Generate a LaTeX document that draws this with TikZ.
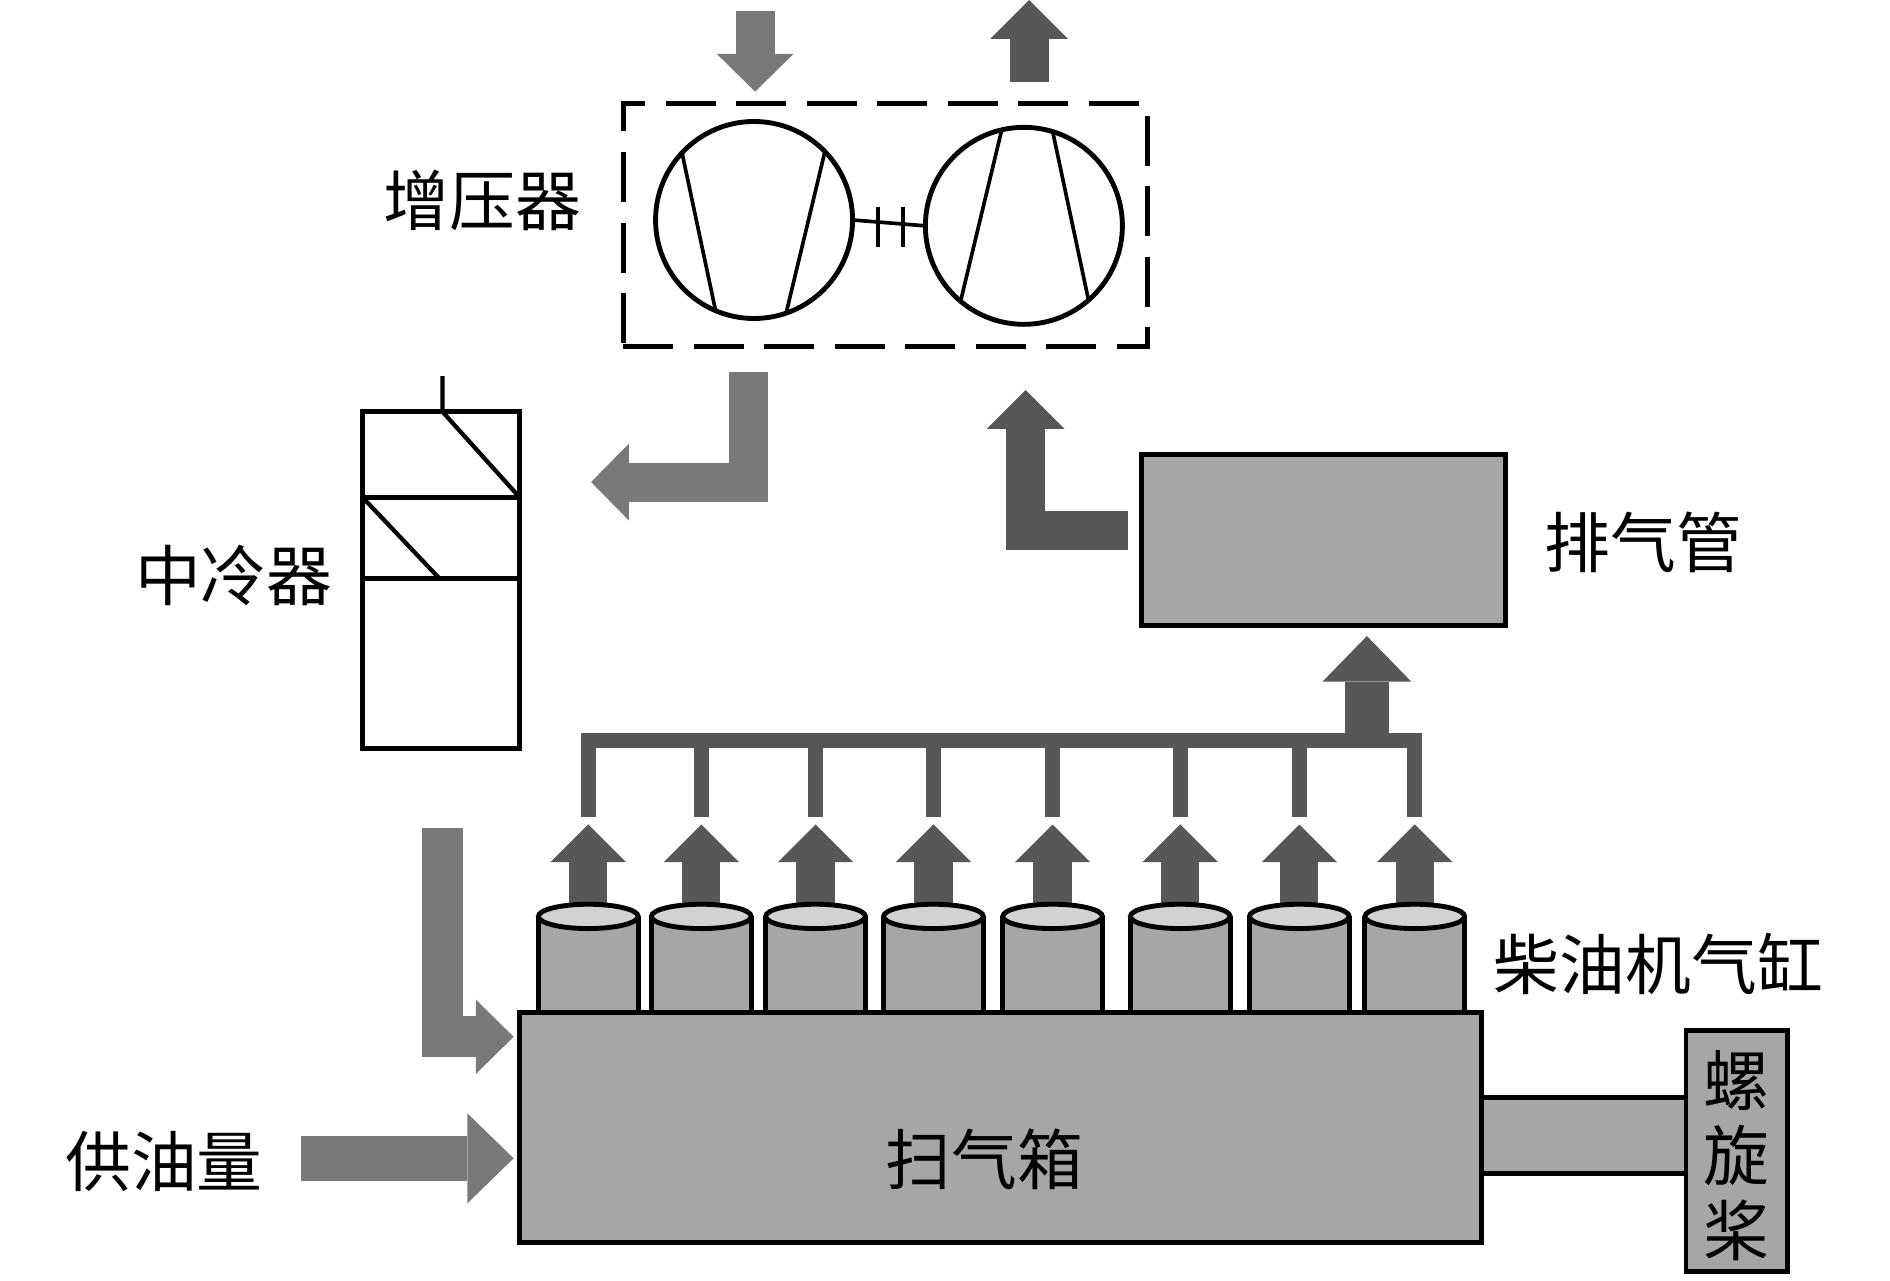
\documentclass[tikz,border=0pt]{standalone}
\usepackage{fontspec}
\newfontfamily\cjk{Noto Sans CJK SC}
\usetikzlibrary{arrows.meta,shapes.geometric}
\definecolor{airgray}{HTML}{797979}
\definecolor{gasgray}{HTML}{575757}
\definecolor{bodygray}{HTML}{A6A6A6}
\definecolor{capgray}{HTML}{D2D2D2}
\tikzset{
  part/.style={draw=black, line width=0.04cm, fill=bodygray, inner sep=0pt, outer sep=0pt},
  wheel/.style={circle, draw=black, line width=0.04cm, minimum size=1.62cm, inner sep=0pt, outer sep=0pt},
  caption/.style={font=\cjk\fontsize{15.4pt}{17.6pt}\selectfont, inner sep=0pt, align=center},
  airflow/.style={draw=airgray, line width=0.32cm, -{Triangle[length=0.31cm,width=0.63cm,line width=0pt]}},
  gasflow/.style={draw=gasgray, line width=0.32cm, -{Triangle[length=0.32cm,width=0.64cm,line width=0pt]}},
  pipe/.style={draw=gasgray, line width=0.12cm},
}
\begin{document}
\begin{tikzpicture}[x=0.01cm, y=-0.01cm]
    \useasboundingbox (0,0) rectangle (1555,1053.2);
    % turbocharger
    \node[draw=black, line width=0.04cm, dash pattern=on 0.41cm off 0.17cm, minimum width=4.31cm, minimum height=2.0cm, inner sep=0pt] (tc) at (728.3,185.2) {};
    \node[wheel] (comp) at (620.4,181) {};
    \node[wheel] (turb) at (842.4,185.8) {};
    \draw[line width=0.03cm] (comp.137) -- (comp.247) (comp.44) -- (comp.289);
    \draw[line width=0.03cm] (turb.103) -- (turb.230) (turb.73) -- (turb.311);
    \draw[line width=0.03cm] (comp.east) -- (turb.west);
    \draw[line width=0.03cm] (722.2,170) -- (722.2,203) (742.7,170) -- (742.7,203);
    \node[caption] (tclabel) at (397,165) {增压器};
    \coordinate (airin) at (621.3,8.8);
    \coordinate (airtip) at (621.3,75.4);
    \coordinate (gasout) at (846.7,67.7);
    \coordinate (gastip) at (846.7,0);
    \draw[airflow] (airin) -- (airtip);
    \draw[gasflow] (gasout) -- (gastip);
    % intercooler
    \node[draw=black, line width=0.04cm, minimum width=1.29cm, minimum height=2.77cm, inner sep=0pt, outer sep=0pt] (ic) at (362.9,477.2) {};
    \draw[line width=0.04cm] (298.3,409.2) -- (427.5,409.2) (298.3,475.8) -- (427.5,475.8);
    \draw[line width=0.035cm] (364,309.4) -- (364,338.7) -- (427.5,409.2);
    \draw[line width=0.035cm] (298.3,409.2) -- (361.4,475.8);
    \node[caption] (iclabel) at (192.4,473.5) {中冷器};
    \coordinate (cmpout) at (616,305.8);
    \coordinate (ictip) at (486.3,396.6);
    \draw[airflow] (cmpout) -- (cmpout |- ictip) -- (ictip);
    % exhaust pipe
    \node[part, minimum width=2.99cm, minimum height=1.40cm] (exh) at (1088.7,444.3) {};
    \node[caption] (exhlabel) at (1352,446) {排气管};
    \coordinate (exhout) at (927.8,436.5);
    \coordinate (turbtip) at (843.8,320.9);
    \draw[gasflow] (exhout) -- (turbtip |- exhout) -- (turbtip);
    % cylinders and manifold
    \foreach \cx [count=\i] in {484,577,671,768,866,971,1069,1164} {
        \node[part, draw=none, minimum width=0.82cm, minimum height=0.79cm] (cyl\i) at (\cx,793.5) {};
        \draw[line width=0.04cm] (cyl\i.north west) -- (cyl\i.south west) (cyl\i.north east) -- (cyl\i.south east);
        \coordinate (drop\i) at (\cx,672.5);
        \coordinate (cyltip\i) at (\cx,678.3);
        \draw[pipe] (drop\i) -- (\cx,609);
        \draw[gasflow, line width=0.315cm, -{Triangle[length=0.31cm,width=0.62cm,line width=0pt]}] (cyl\i.north) -- (cyltip\i);
        \node[ellipse, draw=black, line width=0.04cm, fill=capgray, minimum width=0.82cm, minimum height=0.2cm, inner sep=0pt] (cap\i) at (cyl\i.north) {};
    }
    \draw[pipe] (478,609) -- (1170,609);
    \coordinate (mfold) at (1124.6,609);
    \coordinate (exhin) at (1124.6,523.3);
    \draw[gasflow, line width=0.36cm, -{Triangle[length=0.375cm,width=0.73cm,line width=0pt]}] (mfold) -- (exhin);
    \node[caption] (cyllabel) at (1364.4,793) {柴油机气缸};
    % engine block, shaft and propeller
    \node[part, minimum width=1.68cm, minimum height=0.624cm] (shaft) at (1303.1,934.2) {};
    \node[part, minimum width=7.914cm, minimum height=1.895cm] (scav) at (823.3,927.75) {};
    \node[part, minimum width=0.834cm, minimum height=1.983cm] (prop) at (1428.9,947.15) {};
    \node[caption] (scavlabel) at (810,954) {扫气箱};
    \node[caption] (proplabel) at (1429,951) {螺\\旋\\桨};
    \coordinate (coolout) at (364,681);
    \coordinate (scavtip) at (422.6,853);
    \draw[airflow, line width=0.34cm, -{Triangle[length=0.31cm,width=0.61cm,line width=0pt]}] (coolout) -- (coolout |- scavtip) -- (scavtip);
    \coordinate (fuelin) at (248,953);
    \coordinate (fueltip) at (422.6,953);
    \draw[airflow, line width=0.37cm, -{Triangle[length=0.38cm,width=0.74cm,line width=0pt]}] (fuelin) -- (fueltip);
    \node[caption] (fuellabel) at (135,956) {供油量};
\end{tikzpicture}
\end{document}
